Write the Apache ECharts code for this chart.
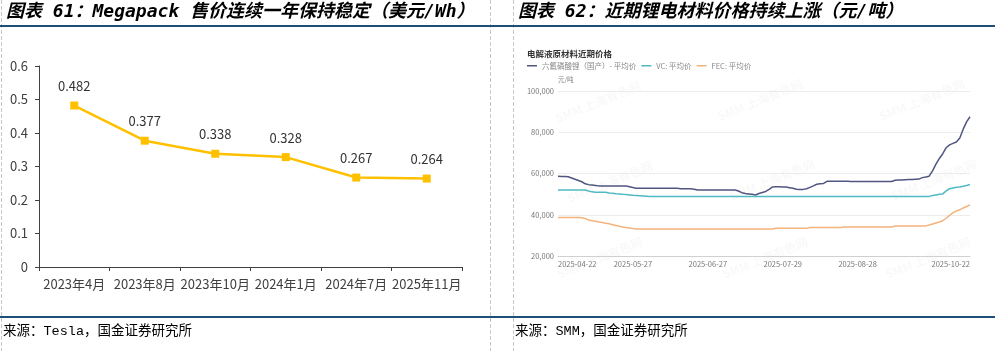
<!DOCTYPE html>
<html><head><meta charset="utf-8">
<script src="https://cdn.jsdelivr.net/npm/echarts@6/dist/echarts.min.js"></script>
<style>html,body{margin:0;padding:0;background:#fff}#c{width:995px;height:351px}</style>
</head><body><div id="c"></div>
<script>
// ---- Left chart: Megapack price (USD/Wh)
const megaCategories = ['2023年4月','2023年8月','2023年10月','2024年1月','2024年7月','2025年11月'];
const megaPrice = [0.482, 0.377, 0.338, 0.328, 0.267, 0.264];

// ---- Right chart: electrolyte raw material prices (yuan/ton)
const seriesNames = ['六氟磷酸锂（国产）- 平均价', 'VC: 平均价', 'FEC: 平均价'];
const dateTickLabels = ['2025-04-22','2025-05-27','2025-06-27','2025-07-29','2025-08-28','2025-10-22'];
const dates = [
'2025-04-22','2025-04-23','2025-04-24','2025-04-25','2025-04-28','2025-04-29','2025-04-30',
'2025-05-06','2025-05-07','2025-05-08','2025-05-09',
'2025-05-12','2025-05-13','2025-05-14','2025-05-15','2025-05-16',
'2025-05-19','2025-05-20','2025-05-21','2025-05-22','2025-05-23',
'2025-05-26','2025-05-27','2025-05-28','2025-05-29','2025-05-30',
'2025-06-03','2025-06-04','2025-06-05','2025-06-06',
'2025-06-09','2025-06-10','2025-06-11','2025-06-12','2025-06-13',
'2025-06-16','2025-06-17','2025-06-18','2025-06-19','2025-06-20',
'2025-06-23','2025-06-24','2025-06-25','2025-06-26','2025-06-27',
'2025-06-30','2025-07-01','2025-07-02','2025-07-03','2025-07-04',
'2025-07-07','2025-07-08','2025-07-09','2025-07-10','2025-07-11',
'2025-07-14','2025-07-15','2025-07-16','2025-07-17','2025-07-18',
'2025-07-21','2025-07-22','2025-07-23','2025-07-24','2025-07-25',
'2025-07-28','2025-07-29','2025-07-30','2025-07-31','2025-08-01',
'2025-08-04','2025-08-05','2025-08-06','2025-08-07','2025-08-08',
'2025-08-11','2025-08-12','2025-08-13','2025-08-14','2025-08-15',
'2025-08-18','2025-08-19','2025-08-20','2025-08-21','2025-08-22',
'2025-08-25','2025-08-26','2025-08-27','2025-08-28','2025-08-29',
'2025-09-01','2025-09-02','2025-09-03','2025-09-04','2025-09-05',
'2025-09-08','2025-09-09','2025-09-10','2025-09-11','2025-09-12',
'2025-09-15','2025-09-16','2025-09-17','2025-09-18','2025-09-19',
'2025-09-22','2025-09-23','2025-09-24','2025-09-25','2025-09-26',
'2025-09-29','2025-09-30','2025-10-09','2025-10-10',
'2025-10-13','2025-10-14','2025-10-15','2025-10-16','2025-10-17',
'2025-10-20','2025-10-21','2025-10-22'
];
const lipf6 = [
58700,58600,58500,58400,57800,57200,56600,56000,55000,54600,
54400,54200,54000,54000,54000,54000,54000,54000,54000,54000,
53900,53600,53200,52900,52800,52800,52800,52800,52800,52800,
52800,52800,52800,52800,52800,52800,52600,52600,52600,52600,
52400,52000,52000,52000,52000,52000,52000,52000,52000,52000,
52000,52000,52000,51500,50700,50300,50100,49900,49600,50300,
50800,51300,52300,53500,53600,53600,53500,53400,53100,52800,
52400,52300,52300,52600,53300,54000,54800,55000,55200,56200,
56300,56300,56300,56300,56300,56300,56100,56100,56100,56100,
56100,56100,56100,56100,56100,56100,56100,56100,56100,56700,
56800,56900,57000,57100,57100,57200,57300,58000,58300,58700,
61300,64500,67300,69600,72500,73900,74600,75300,77200,81500,
85000,87500
];
const vc = [
52000,52000,52000,52000,52000,52000,52000,52000,52000,51500,
51100,50900,50900,50900,50900,50600,50400,50200,50100,49900,
49800,49600,49400,49300,49200,49100,49000,48900,48900,48900,
48900,48900,48900,48900,48900,48900,48900,48900,48900,48900,
48900,48900,48900,48900,48900,48900,48900,48900,48900,48900,
48900,48900,48900,48900,48900,48900,48900,48900,48900,48900,
48900,48900,48900,48900,48900,48900,48900,48900,48900,48900,
48900,48900,48900,48900,48900,48900,48900,48900,48900,48900,
48900,48900,48900,48900,48900,48900,48900,48900,48900,48900,
48900,48900,48900,48900,48900,48900,48900,48900,48900,48900,
48900,48900,48900,48900,48900,48900,48900,48900,48900,48900,
49300,49600,49900,50100,51600,52600,53000,53300,53500,53800,
54200,54700
];
const fec = [
38700,38700,38700,38700,38700,38700,38700,38500,38200,37400,
37100,36800,36500,36200,35900,35600,35200,34800,34400,34100,
33800,33600,33300,33100,33100,33100,33100,33100,33100,33100,
33100,33100,33100,33100,33100,33100,33100,33100,33100,33100,
33100,33100,33100,33100,33100,33100,33100,33100,33100,33100,
33100,33100,33100,33100,33100,33100,33100,33100,33100,33100,
33100,33100,33100,33100,33400,33400,33400,33400,33400,33400,
33400,33400,33400,33400,33800,33800,33800,33800,33800,33800,
33800,33800,33800,33800,34100,34100,34100,34100,34100,34100,
34100,34100,34100,34100,34100,34100,34100,34100,34100,34600,
34600,34600,34600,34600,34600,34600,34600,34600,34600,35000,
35500,36000,36500,37100,38300,39700,41000,41800,42400,43300,
44000,44800
];

const CJK = "'Noto Sans CJK SC', 'Noto Sans', sans-serif";
const TITLE_FONT = "'DejaVu Sans Mono', 'Noto Sans CJK SC', monospace";
const SRC_FONT = "'Liberation Mono', 'Noto Sans CJK SC', monospace";

function txt(x, y, text, style) {
  return { type: 'text', x: x, y: y, silent: true,
    style: Object.assign({ text: text, verticalAlign: 'middle', align: 'left' }, style) };
}
function ln(x1, y1, x2, y2, style) {
  return { type: 'line', silent: true, shape: { x1, y1, x2, y2 }, style: style };
}
const dash = { stroke: '#c8c8c8', lineWidth: 1, lineDash: [4, 2] };
const blue = { stroke: '#1F4E79', lineWidth: 2 };

const watermarks = [];
[[598,102],[760,100],[922,100],[610,182],[772,180],[934,180],[600,258],[765,258],[928,258]].forEach(p => {
  watermarks.push({ type: 'text', x: p[0], y: p[1], rotation: 0.38, silent: true, z: -1,
    style: { text: 'SMM 上海有色网', fill: 'rgba(0,0,0,0.028)', fontSize: 12, fontFamily: CJK,
      align: 'center', verticalAlign: 'middle', fontWeight: 'bold' } });
});

const chart = echarts.init(document.getElementById('c'), null, { renderer: 'canvas' });
chart.setOption({
  animation: false,
  backgroundColor: '#fff',
  graphic: [
    ln(1.5, 0, 1.5, 351, dash),
    ln(490.5, 0, 490.5, 351, dash),
    ln(513.5, 0, 513.5, 351, dash),
    ln(0, 26, 995, 26, blue),
    ln(0, 317, 995, 317, blue),
    txt(6, 12.5, '图表 61：Megapack 售价连续一年保持稳定（美元/Wh）',
      { fontSize: 18, fontFamily: TITLE_FONT, fontWeight: 'bold', fontStyle: 'italic', fill: '#000' }),
    txt(518, 12.5, '图表 62：近期锂电材料价格持续上涨（元/吨）',
      { fontSize: 18, fontFamily: TITLE_FONT, fontWeight: 'bold', fontStyle: 'italic', fill: '#000' }),
    txt(3, 331.5, '来源：Tesla，国金证券研究所', { fontSize: 13.5, fontFamily: SRC_FONT, fill: '#000' }),
    txt(515, 331.5, '来源：SMM，国金证券研究所', { fontSize: 13.5, fontFamily: SRC_FONT, fill: '#000' }),
    txt(527, 53.5, '电解液原材料近期价格', { fontSize: 8.5, fontFamily: CJK, fontWeight: 'bold', fill: '#333' }),
    txt(558, 80, '元/吨', { fontSize: 6.5, fontFamily: CJK, fill: '#888' })
  ].concat(watermarks),
  legend: {
    data: seriesNames,
    left: 527, top: 62, padding: 0,
    icon: 'rect', itemWidth: 10, itemHeight: 1.5, itemGap: 5,
    textStyle: { fontSize: 7.5, color: '#888', fontFamily: CJK },
    selectedMode: false
  },
  grid: [
    { left: 39, right: 533, top: 66, bottom: 84 },
    { left: 558, right: 25, top: 91, bottom: 95 }
  ],
  xAxis: [
    { type: 'category', gridIndex: 0, data: megaCategories, boundaryGap: true,
      axisLine: { lineStyle: { color: '#404040', width: 1 } },
      axisTick: { show: true, length: 4, lineStyle: { color: '#404040' } },
      axisLabel: { color: '#404040', fontSize: 13, fontFamily: CJK, margin: 11, interval: 0 } },
    { type: 'category', gridIndex: 1, data: dates, boundaryGap: false,
      axisLine: { lineStyle: { color: '#d0d0d0', width: 1 } },
      axisTick: { show: false },
      axisLabel: { color: '#777', fontSize: 7.5, fontFamily: CJK, margin: 4,
        interval: (i, v) => dateTickLabels.indexOf(v) >= 0,
        alignMinLabel: 'left', alignMaxLabel: 'right' } }
  ],
  yAxis: [
    { type: 'value', gridIndex: 0, min: 0, max: 0.6, interval: 0.1,
      splitLine: { show: false },
      axisLine: { show: true, lineStyle: { color: '#404040', width: 1 } },
      axisTick: { show: true, length: 4, lineStyle: { color: '#404040' } },
      axisLabel: { color: '#404040', fontSize: 13, fontFamily: CJK, margin: 11 } },
    { type: 'value', gridIndex: 1, min: 20000, max: 100000, interval: 20000,
      splitLine: { show: true, lineStyle: { color: '#ececec', width: 1 } },
      axisLine: { show: false }, axisTick: { show: false },
      axisLabel: { color: '#777', fontSize: 7.5, fontFamily: CJK, margin: 4,
        formatter: v => v.toLocaleString('en-US') } }
  ],
  series: [
    { name: 'Megapack', type: 'line', xAxisIndex: 0, yAxisIndex: 0, data: megaPrice,
      symbol: 'rect', symbolSize: 8, lineStyle: { color: '#FFC000', width: 2.5 },
      itemStyle: { color: '#FFC000' },
      label: { show: true, position: 'top', distance: 9, color: '#333', fontSize: 13, fontFamily: CJK } },
    { name: seriesNames[0], type: 'line', xAxisIndex: 1, yAxisIndex: 1, data: lipf6,
      symbol: 'none', lineStyle: { color: '#50567f', width: 1.5 }, itemStyle: { color: '#50567f' } },
    { name: seriesNames[1], type: 'line', xAxisIndex: 1, yAxisIndex: 1, data: vc,
      symbol: 'none', lineStyle: { color: '#4fbac3', width: 1.5 }, itemStyle: { color: '#4fbac3' } },
    { name: seriesNames[2], type: 'line', xAxisIndex: 1, yAxisIndex: 1, data: fec,
      symbol: 'none', lineStyle: { color: '#f2b47c', width: 1.5 }, itemStyle: { color: '#f2b47c' } }
  ]
});
</script>
</body></html>
